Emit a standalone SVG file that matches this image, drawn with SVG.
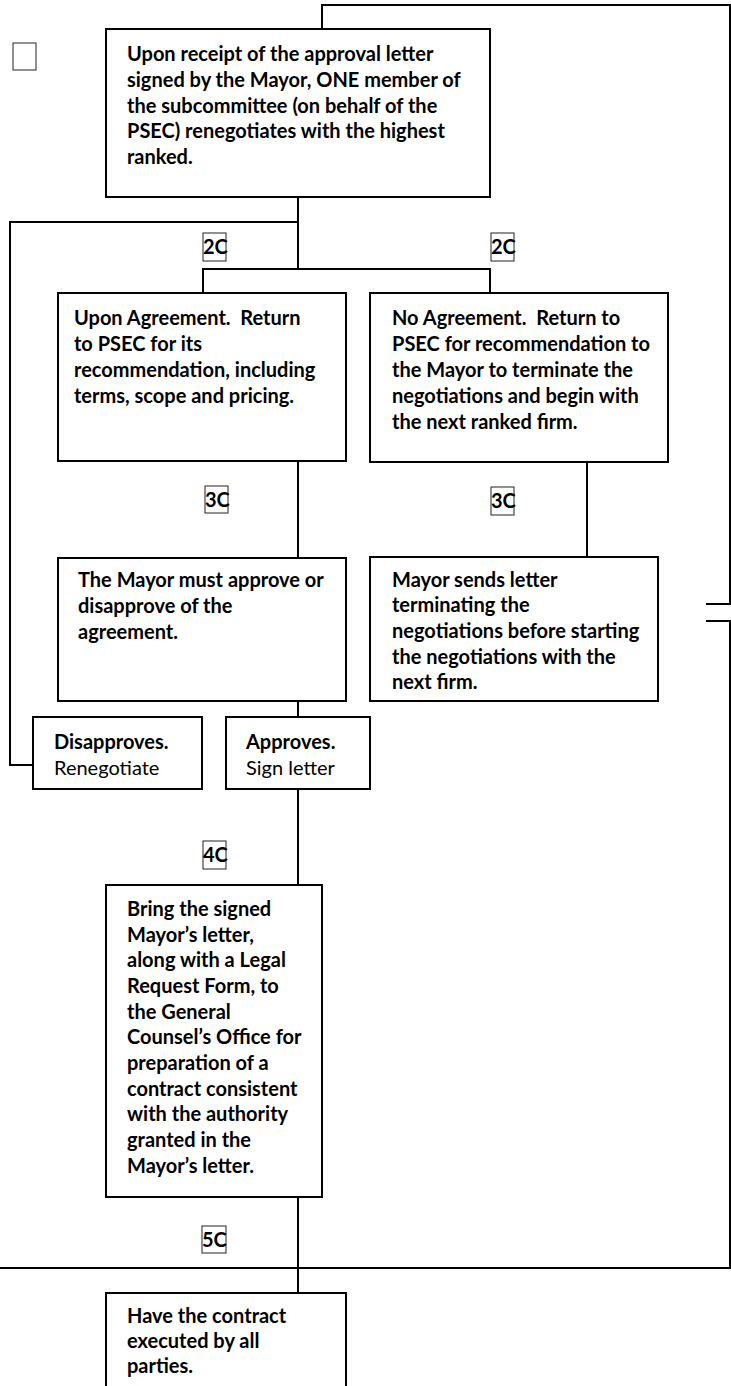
<svg xmlns="http://www.w3.org/2000/svg" width="731" height="1386" viewBox="0 0 731 1386">
<style>
.box{fill:#fff;stroke:#000;stroke-width:2}
.lbl{fill:#fff;stroke:#222;stroke-width:1}
.ln{fill:none;stroke:#000;stroke-width:2}
text{font-family:Lato,"Liberation Sans",sans-serif;font-size:20px;fill:#000;white-space:pre}
.b{font-weight:bold}
</style>
<rect width="731" height="1386" fill="#fff"/>
<g id="connectors">
<polyline class="ln" points="706,604 730,604 730,5 322,5 322,29"/>
<polyline class="ln" points="706,621 730,621 730,1268 0,1268"/>
<line class="ln" x1="298" y1="197" x2="298" y2="269"/>
<polyline class="ln" points="298,222 10,222 10,765 33,765"/>
<polyline class="ln" points="203,293 203,269 490,269 490,293"/>
<line class="ln" x1="298" y1="461" x2="298" y2="558"/>
<line class="ln" x1="587" y1="462" x2="587" y2="557"/>
<line class="ln" x1="298" y1="701" x2="298" y2="717"/>
<line class="ln" x1="298" y1="789" x2="298" y2="885"/>
<line class="ln" x1="298" y1="1197" x2="298" y2="1293"/>
</g>
<g id="marker"><rect class="lbl" x="13" y="43" width="23" height="27"/></g>
<g id="n1">
<rect class="box" x="106" y="29" width="384" height="168"/>
<text class="b" x="127" y="61">Upon receipt of the approval letter</text>
<text class="b" x="127" y="87">signed by the Mayor, ONE member of</text>
<text class="b" x="127" y="113">the subcommittee (on behalf of the</text>
<text class="b" x="127" y="138">PSEC) renegotiates with the highest</text>
<text class="b" x="127" y="164">ranked.</text>
</g>
<g id="l2a"><rect class="lbl" x="203" y="233" width="23" height="28"/><text class="b" x="203" y="254">2C</text></g>
<g id="l2b"><rect class="lbl" x="491" y="233" width="23" height="28"/><text class="b" x="491" y="254">2C</text></g>
<g id="n2">
<rect class="box" x="58" y="293" width="288" height="168"/>
<text class="b" x="74" y="325">Upon Agreement.  Return</text>
<text class="b" x="74" y="351">to PSEC for its</text>
<text class="b" x="74" y="377">recommendation, including</text>
<text class="b" x="74" y="403">terms, scope and pricing.</text>
</g>
<g id="n3">
<rect class="box" x="370" y="293" width="298" height="169"/>
<text class="b" x="392" y="325">No Agreement.  Return to</text>
<text class="b" x="392" y="351">PSEC for recommendation to</text>
<text class="b" x="392" y="377">the Mayor to terminate the</text>
<text class="b" x="392" y="403">negotiations and begin with</text>
<text class="b" x="392" y="429">the next ranked firm.</text>
</g>
<g id="l3a"><rect class="lbl" x="205" y="486" width="23" height="27"/><text class="b" x="205" y="507">3C</text></g>
<g id="l3b"><rect class="lbl" x="491" y="487" width="23" height="28"/><text class="b" x="491" y="508">3C</text></g>
<g id="n4">
<rect class="box" x="58" y="558" width="288" height="143"/>
<text class="b" x="78" y="587">The Mayor must approve or</text>
<text class="b" x="78" y="613">disapprove of the</text>
<text class="b" x="78" y="639">agreement.</text>
</g>
<g id="n5">
<rect class="box" x="370" y="557" width="288" height="144"/>
<text class="b" x="392" y="587">Mayor sends letter</text>
<text class="b" x="392" y="612">terminating the</text>
<text class="b" x="392" y="638">negotiations before starting</text>
<text class="b" x="392" y="664">the negotiations with the</text>
<text class="b" x="392" y="689">next firm.</text>
</g>
<g id="n6">
<rect class="box" x="33" y="717" width="169" height="72"/>
<text class="b" x="54" y="749">Disapproves.</text>
<text x="54" y="775">Renegotiate</text>
</g>
<g id="n7">
<rect class="box" x="226" y="717" width="144" height="72"/>
<text class="b" x="246" y="749">Approves.</text>
<text x="246" y="775">Sign letter</text>
</g>
<g id="l4"><rect class="lbl" x="203" y="841" width="23" height="28"/><text class="b" x="203" y="862">4C</text></g>
<g id="n8">
<rect class="box" x="106" y="885" width="216" height="312"/>
<text class="b" x="127" y="916">Bring the signed</text>
<text class="b" x="127" y="942">Mayor’s letter,</text>
<text class="b" x="127" y="967">along with a Legal</text>
<text class="b" x="127" y="993">Request Form, to</text>
<text class="b" x="127" y="1019">the General</text>
<text class="b" x="127" y="1044">Counsel’s Office for</text>
<text class="b" x="127" y="1070">preparation of a</text>
<text class="b" x="127" y="1096">contract consistent</text>
<text class="b" x="127" y="1121">with the authority</text>
<text class="b" x="127" y="1147">granted in the</text>
<text class="b" x="127" y="1173">Mayor’s letter.</text>
</g>
<g id="l5"><rect class="lbl" x="202" y="1226" width="24" height="27"/><text class="b" x="202" y="1247">5C</text></g>
<g id="n9">
<rect class="box" x="106" y="1293" width="240" height="110"/>
<text class="b" x="127" y="1323">Have the contract</text>
<text class="b" x="127" y="1348">executed by all</text>
<text class="b" x="127" y="1373">parties.</text>
</g>
</svg>
